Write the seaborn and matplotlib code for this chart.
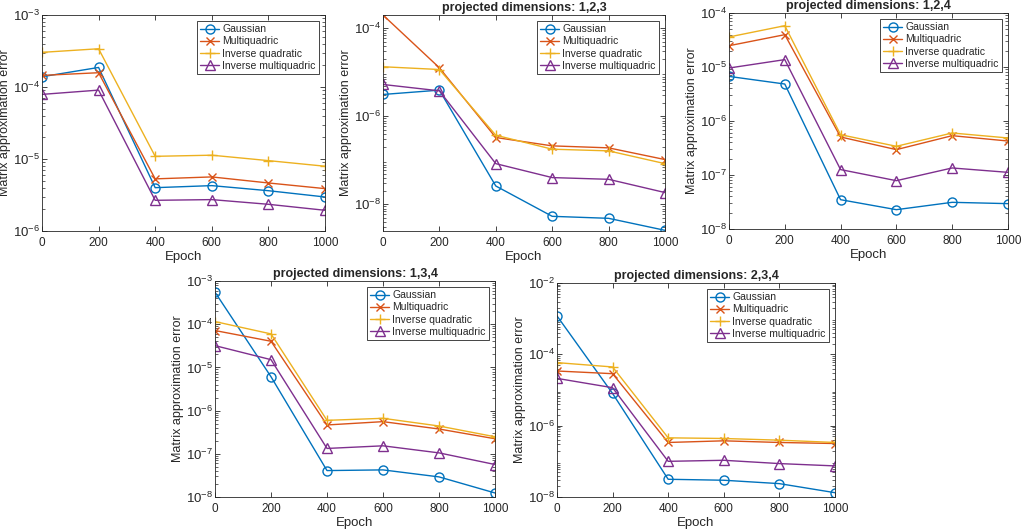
import numpy as np
import pandas as pd
import matplotlib
matplotlib.use("Agg")
import matplotlib.pyplot as plt
import matplotlib.ticker as mticker
import seaborn as sns

# Data
epochs = [0, 200, 400, 600, 800, 1000]
kernels = ["Gaussian", "Multiquadric", "Inverse quadratic", "Inverse multiquadric"]

titles = ["", "projected dimensions: 1,2,3", "projected dimensions: 1,2,4",
          "projected dimensions: 1,3,4", "projected dimensions: 2,3,4"]

# full projection (no title)
p0_gauss = [1.39e-4, 1.87e-4, 4.0e-6, 4.27e-6, 3.63e-6, 2.97e-6]
p0_multi = [1.45e-4, 1.58e-4, 5.3e-6, 5.64e-6, 4.65e-6, 3.88e-6]
p0_invq = [3.03e-4, 3.4e-4, 1.09e-5, 1.13e-5, 9.5e-6, 7.94e-6]
p0_invm = [7.9e-5, 9.06e-5, 2.67e-6, 2.73e-6, 2.35e-6, 1.94e-6]

# dims 1,2,3
p1_gauss = [3.14e-6, 3.94e-6, 2.61e-8, 5.33e-9, 4.8e-9, 2.56e-9]
p1_multi = [2.01e-4, 1.27e-5, 3.3e-7, 2.13e-7, 1.92e-7, 1.04e-7]
p1_invq = [1.34e-5, 1.16e-5, 3.72e-7, 1.79e-7, 1.64e-7, 8.4e-8]
p1_invm = [5.3e-6, 3.8e-6, 8.4e-8, 4.05e-8, 3.7e-8, 1.85e-8]

# dims 1,2,4
p2_gauss = [6.7e-6, 4.84e-6, 3.49e-8, 2.28e-8, 3.12e-8, 2.95e-8]
p2_multi = [2.48e-5, 3.97e-5, 5.06e-7, 2.95e-7, 5.35e-7, 4.26e-7]
p2_invq = [3.6e-5, 5.82e-5, 5.58e-7, 3.4e-7, 6.0e-7, 4.85e-7]
p2_invm = [9.58e-6, 1.37e-5, 1.26e-7, 7.85e-8, 1.35e-7, 1.12e-7]

# dims 1,3,4
p3_gauss = [5.5e-4, 6.07e-6, 4.09e-8, 4.24e-8, 2.92e-8, 1.24e-8]
p3_multi = [7.13e-5, 4.03e-5, 4.65e-7, 5.55e-7, 3.75e-7, 2.23e-7]
p3_invq = [1.15e-4, 5.96e-5, 5.95e-7, 6.63e-7, 4.4e-7, 2.48e-7]
p3_invm = [3.19e-5, 1.51e-5, 1.33e-7, 1.53e-7, 1.05e-7, 5.65e-8]

# dims 2,3,4
p4_gauss = [1.2e-3, 8.0e-6, 3.14e-8, 2.95e-8, 2.37e-8, 1.32e-8]
p4_multi = [3.41e-5, 2.87e-5, 3.38e-7, 3.76e-7, 3.38e-7, 3.16e-7]
p4_invq = [5.86e-5, 4.43e-5, 4.56e-7, 4.37e-7, 3.92e-7, 3.38e-7]
p4_invm = [2.12e-5, 1.16e-5, 1.0e-7, 1.07e-7, 8.65e-8, 7.44e-8]

panels = [
    [p0_gauss, p0_multi, p0_invq, p0_invm],
    [p1_gauss, p1_multi, p1_invq, p1_invm],
    [p2_gauss, p2_multi, p2_invq, p2_invm],
    [p3_gauss, p3_multi, p3_invq, p3_invm],
    [p4_gauss, p4_multi, p4_invq, p4_invm],
]

ylims = [(1e-6, 1e-3), (2.47e-9, 2.01e-4), (1e-8, 1e-4), (1e-8, 1e-3), (1e-8, 1e-2)]
yticks = [[1e-6, 1e-5, 1e-4, 1e-3], [1e-8, 1e-6, 1e-4], [1e-8, 1e-7, 1e-6, 1e-5, 1e-4],
          [1e-8, 1e-7, 1e-6, 1e-5, 1e-4, 1e-3], [1e-8, 1e-6, 1e-4, 1e-2]]

colors = ["#0072BD", "#D95319", "#EDB120", "#7E2F8E"]
markers = ["o", "x", "+", "^"]
msizes = [6.5, 6, 7.5, 6.5]

sns.set_theme(style="ticks")
plt.rcParams["font.family"] = ["Liberation Sans", "DejaVu Sans"]
plt.rcParams["mathtext.fontset"] = "custom"
plt.rcParams["mathtext.rm"] = "Liberation Sans"
plt.rcParams["mathtext.it"] = "Liberation Sans:italic"

fig = plt.figure(figsize=(10.21, 5.29), dpi=100)
positions = [
    [0.0411, 0.5633, 0.2772, 0.4083],
    [0.3751, 0.5633, 0.2762, 0.4083],
    [0.7140, 0.5671, 0.2732, 0.4083],
    [0.2106, 0.0605, 0.2742, 0.4083],
    [0.5455, 0.0605, 0.2723, 0.4045],
]

dark = "#262626"
for i, pos in enumerate(positions):
    ax = fig.add_axes(pos)
    for vals, name, c, m, ms in zip(panels[i], kernels, colors, markers, msizes):
        sns.lineplot(x=epochs, y=vals, ax=ax, color=c, marker=m, markersize=ms,
                     markerfacecolor="none", markeredgecolor=c, markeredgewidth=1.0,
                     linewidth=1.0, label=name)
    ax.set_yscale("log")
    ax.set_xlim(0, 1000)
    ax.set_ylim(*ylims[i])
    ax.set_xticks(epochs)
    ax.yaxis.set_major_locator(mticker.FixedLocator(yticks[i]))
    ax.yaxis.set_minor_locator(mticker.LogLocator(base=10, subs=np.arange(2, 10), numticks=30))
    ax.yaxis.set_minor_formatter(mticker.NullFormatter())
    ax.tick_params(which="both", direction="in", top=True, right=True, colors=dark)
    ax.tick_params(axis="x", labelsize=8.5, pad=4.5)
    ax.tick_params(axis="y", labelsize=9.5, pad=1.5)
    ax.tick_params(which="major", length=3.5, width=0.6)
    ax.tick_params(which="minor", length=2, width=0.5)
    for s in ax.spines.values():
        s.set_color(dark)
        s.set_linewidth(0.6)
    ax.set_xlabel("Epoch", fontsize=9.5, color=dark, labelpad=1.5)
    ax.set_ylabel("Matrix approximation error", fontsize=9, color=dark, labelpad=1)
    if titles[i]:
        ax.set_title(titles[i], fontsize=9, fontweight="bold", pad=3)
    leg = ax.legend(loc="upper right", fontsize=7.5, fancybox=False, framealpha=1,
                    edgecolor=dark, borderpad=0.3, labelspacing=0.2,
                    handlelength=1.8, handletextpad=0.3, borderaxespad=0.6)
    leg.get_frame().set_linewidth(0.6)

fig.savefig("out.png", dpi=100)
